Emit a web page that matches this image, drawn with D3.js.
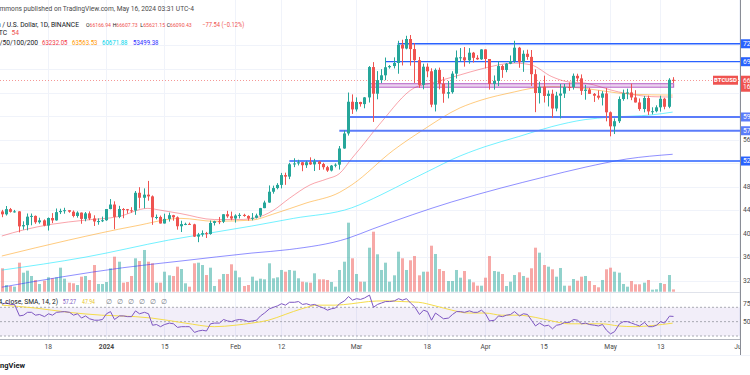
<!DOCTYPE html>
<html><head><meta charset="utf-8">
<script src="https://cdn.jsdelivr.net/npm/d3@7"></script>
<style>
body{margin:0;background:#fff;overflow:hidden;}
svg{display:block;font-family:Roboto,"Liberation Sans",Arial,sans-serif;}
</style></head>
<body><svg id="c" width="750" height="375"></svg>
<script>
// ---------------- DATA ----------------
const firstDay = "2023-12-07"; // one candle per day from here
const opens = [43775,43290,44170,43710,43790,41240,41450,42890,43020,41940,42260,41370,42660,42260,43660,43860,43990,43730,43010,43580,42510,43450,42580,42070,42140,
42280,44180,44950,42850,44190,44160,43970,43930,46950,46110,46630,46340,42780,42840,41730,42510,43140,42780,41260,41620,41660,41580,39500,39850,40080,39940,41820,42120,42030,43300,42950,
42580,43080,43190,43010,42580,42700,43090,44340,45290,47130,47750,48290,49960,49700,51800,51940,52140,51640,52140,51780,52270,51840,51300,50730,51570,51730,54480,57040,62430,
61130,62390,62030,63170,68330,63800,66100,66930,68300,68500,69020,72120,71480,73100,71390,69500,65300,68390,67610,61940,67840,65500,63800,64060,67210,69960,69990,69470,70770,69900,69650,
71330,69700,65470,65970,68500,67840,68900,69360,71620,69150,70590,70060,67120,63920,64970,63420,63790,61280,63470,63820,64940,64920,66840,66410,64280,64500,63770,63460,63120,63840,
60640,58250,59120,62890,63890,64010,63160,62310,61190,63070,60790,60820,61480,62940,61580,66166.94];
const highs = [44050,44700,44370,44040,43820,42100,43430,43420,43090,42710,42430,42760,43490,44280,44240,44400,44000,43950,43800,43600,43680,43790,43120,42600,42900,
44180,45880,45500,44730,44350,44200,44500,47250,47900,47700,48970,46500,43250,43080,43400,43580,43200,42930,42200,41870,41880,41680,40130,40550,40300,42230,42200,42840,43310,43880,43750,
43290,43490,43380,43120,43500,43400,44380,45610,48200,48170,48590,50330,50370,52040,52820,52570,52190,52380,52980,52720,52380,52050,51530,51680,51950,54900,57550,64000,63680,
63170,62430,63230,68500,69170,67640,67970,69950,68670,69980,72800,72980,73650,73780,72400,70050,68900,68950,68120,68100,68240,66650,65970,67620,71150,71560,71730,71550,70900,70350,71370,
71340,69700,66900,69290,68720,69000,70300,72800,71760,71170,71280,71230,67930,65840,66870,64360,64490,64120,65450,65450,65700,67230,67200,67080,65290,64800,63920,64370,64230,64750,
60780,59600,63330,64500,64650,65500,64400,62990,63420,63470,61490,61820,63450,63100,66440,66607.73];
const lows = [42800,43080,43580,43580,40220,40680,40560,41420,41670,41690,41250,40530,41790,42200,43330,43400,43560,42770,42720,41680,42100,42300,41300,41520,41970,
42180,44150,40750,42630,42630,43400,43570,43200,44300,44300,45600,41500,42440,41720,41720,42050,42200,40680,40280,41450,41500,39430,38550,39500,39260,39820,41390,41620,41800,42690,42280,
41880,42580,42880,42220,42260,42580,42790,44330,45250,46800,47540,47700,48300,49270,51310,51600,50620,51180,51700,50650,50830,50900,50500,50580,51280,50900,54440,56680,60360,
60770,61600,61320,62300,59000,62850,65600,66100,68060,68100,67200,68600,71340,68560,65630,64780,64550,66600,61500,60780,64530,62260,63000,63800,66380,69280,68400,68900,69100,69560,69560,
68100,64500,64500,65090,66500,67450,68820,69040,68210,67520,69570,65100,60660,62130,62300,61630,59700,60800,59600,63080,64280,64500,65850,63590,62780,63780,62400,62800,61800,59100,
56550,56940,58810,62600,62860,62700,62300,60890,60630,60190,60290,60630,60750,61150,61330,65621.15];
const closes = [43290,44170,43710,43790,41240,41450,42890,43020,41940,42260,41370,42660,42260,43660,43860,43990,43730,43010,43580,42510,43450,42580,42070,42140,42280,
44180,44950,42850,44190,44160,43970,43930,46950,46110,46630,46340,42780,42840,41730,42510,43140,42780,41260,41620,41660,41580,39500,39850,40080,39940,41820,42120,42030,43300,42950,42580,
43080,43190,43010,42580,42700,43090,44340,45290,47130,47750,48290,49960,49700,51800,51940,52140,51640,52140,51780,52270,51840,51300,50730,51570,51730,54480,57040,62430,61130,
62390,62030,63170,68330,63800,66100,66930,68300,68500,69020,72120,71480,73100,71390,69500,65300,68390,67610,61940,67840,65500,63800,64060,67210,69960,69990,69470,70770,69900,69650,71330,
69700,65470,65970,68500,67840,68900,69360,71620,69150,70590,70060,67120,63920,64970,63420,63790,61280,63470,63820,64940,64920,66840,66410,64280,64500,63770,63460,63120,63840,60640,
58250,59120,62890,63890,64010,63160,62310,61190,63070,60790,60820,61480,62940,61580,66168,66090.43];
const volumes = [550,157,134,118,682,447,494,369,275,181,259,338,315,338,564,306,212,197,157,353,369,275,627,181,181,
228,550,823,705,212,228,369,785,721,980,705,667,212,212,470,385,369,588,533,197,118,667,682,627,392,564,134,291,416,416,644,
494,338,134,157,353,259,306,291,667,315,338,510,470,510,494,315,235,221,212,432,291,291,275,228,118,510,705,1622,785,
416,235,235,1034,1410,879,510,682,235,385,940,785,510,738,839,385,470,470,1081,886,533,486,251,251,510,329,486,291,221,141,141,
329,839,486,470,416,134,235,392,456,369,329,550,1034,917,627,588,526,353,557,141,141,298,259,353,369,251,157,103,275,526,
564,470,447,181,118,251,174,174,212,275,47,56,204,181,392,54];
const rsiValues = [75,76,74,74,58,59,63,63,59,60,57,61,59,63,63.5,64,63,59,61,55,58,54,52,52,53,
61,64,53,58,58,57,57,65,61,63,61,45,46,43,46,48,47,42,43,43,43,35,37,38,37,47,48,48,53,51,50,
52,53,52,50,51,52,58,62,68,70,72,75,73,77,77,78,74,75,73,74,71,69,66,68,69,75,79,85,80,
82,81,83,87,70,74,76,78,78,79,82,80,82,76,71,60,66,64,52,62,58,54,55,60,64,64,63,65,63,63,66,
61,51,52,58,57,59,60,64,58,61,60,52,44,48,44,45,40,45,46,49,49,53,52,47,48,46,45,44,46,38,
33,36,47,50,50,48,46,44,49,43,43,45,50,48,57.7,57.27];
const rsiSmaPoints = [["2023-12-07",73],["2023-12-15",69],["2023-12-23",63],["2023-12-31",59],["2024-01-08",57],["2024-01-12",55],["2024-01-20",48],["2024-01-27",43],["2024-02-01",45],["2024-02-05",48],
["2024-02-09",52],["2024-02-13",60],["2024-02-17",68],["2024-02-21",73],["2024-02-25",73],["2024-02-29",75],["2024-03-04",78],["2024-03-08",79],["2024-03-12",78],["2024-03-16",77],
["2024-03-20",72],["2024-03-24",66],["2024-03-28",62],["2024-04-01",62],["2024-04-05",59],["2024-04-09",59],["2024-04-13",56],["2024-04-17",51],["2024-04-21",47],["2024-04-25",47],
["2024-04-29",47],["2024-05-03",44],["2024-05-07",43],["2024-05-11",44.5],["2024-05-16",47.94]];
const ma20 = [["2023-12-07",39600],["2023-12-12",40600],["2023-12-19",41600],["2023-12-27",42300],["2024-01-04",42900],["2024-01-11",44300],["2024-01-14",44000],["2024-01-19",43400],["2024-01-27",42400],["2024-02-02",42400],
["2024-02-06",42700],["2024-02-10",43900],["2024-02-14",46000],["2024-02-19",48300],["2024-02-23",49300],["2024-02-26",50200],["2024-02-29",52800],["2024-03-02",54500],["2024-03-07",58900],["2024-03-15",64800],
["2024-03-19",65600],["2024-03-26",67000],["2024-03-31",68000],["2024-04-08",69000],["2024-04-12",68700],["2024-04-17",66700],["2024-04-21",65800],["2024-04-25",65600],["2024-05-03",64100],["2024-05-11",63300],["2024-05-16",63232.05]];
const ma50 = [["2023-12-07",36200],["2023-12-23",38900],["2024-01-08",41300],["2024-01-19",42600],["2024-01-27",42100],["2024-02-05",42300],["2024-02-10",43300],["2024-02-18",45200],["2024-02-26",47000],["2024-02-29",48300],
["2024-03-10",54200],["2024-03-17",57600],["2024-03-26",61400],["2024-03-31",62700],["2024-04-08",64100],["2024-04-12",64700],["2024-04-17",65000],["2024-04-25",64700],["2024-05-03",63900],["2024-05-11",63600],["2024-05-16",63563.53]];
const ma100 = [["2023-12-07",33800],["2023-12-27",36000],["2024-01-16",38900],["2024-02-05",41300],["2024-02-15",42600],["2024-02-29",44400],["2024-03-07",46600],["2024-03-14",49100],["2024-03-20",51200],["2024-03-24",52600],
["2024-04-01",54800],["2024-04-09",56500],["2024-04-17",58200],["2024-04-25",59400],["2024-05-01",59800],["2024-05-11",60200],["2024-05-16",60671.88]];
const ma200 = [["2023-12-07",30900],["2023-12-21",32600],["2024-01-05",34200],["2024-01-19",35350],["2024-02-05",36700],["2024-02-14",37300],["2024-02-28",39200],["2024-03-05",40800],["2024-03-24",45400],["2024-04-05",47800],
["2024-04-15",49600],["2024-04-25",51300],["2024-05-05",52700],["2024-05-16",53499.38]];
const levelPrices = [72290,69240,59840,57500,52350];
const levelStarts = ["2024-03-11","2024-03-08","2024-02-28","2024-02-26","2024-02-14"];
const zone = {low:64900, high:65500, from:"2024-03-04", to:"2024-05-16"};
const priceTicks = [32000,36000,40000,44000,48000,52000,56000,60000,64000,68000,72000];
const timeTickDates = ["2023-12-18","2024-01-01","2024-01-15","2024-02-01","2024-02-12","2024-03-01","2024-03-18","2024-04-01","2024-04-15","2024-05-01","2024-05-13","2024-06-01"];
const timeTickLabels = ["18","2024","15","Feb","12","Mar","18","Apr","15","May","13","Jun"];
const ohlcLegend = [["O","66166.94"],["H","66607.73"],["L","65621.15"],["C","66090.43"]];
const maLegend = ["63232.05","63563.53","60671.88","53499.38"];

// ---------------- CHART ----------------
const svg = d3.select("#c");
const P = d3.utcParse("%Y-%m-%d");
const UP="#26a69a", DN="#ef5350";
const x = d3.scaleUtc().domain([P("2024-02-12"),P("2024-03-01")]).range([281,356]);
const y = d3.scaleLinear().domain([32000,68000]).range([280.7,69]);
const yVol = d3.scaleLinear().domain([0,2350]).range([291.7,191.7]);
const yR = d3.scaleLinear().domain([30,70]).range([336,307.3]);
const start = P(firstDay);
const days = closes.map((_,i)=>d3.utcDay.offset(start,i));
const cx = d => Math.round(x(d));
const last = closes[closes.length-1];

const defs = svg.append("defs");
defs.append("clipPath").attr("id","main").append("rect").attr("x",0).attr("y",0).attr("width",740).attr("height",292);
defs.append("clipPath").attr("id","rsi").append("rect").attr("x",0).attr("y",293).attr("width",740).attr("height",46);
defs.append("clipPath").attr("id","time").append("rect").attr("x",0).attr("y",340).attr("width",741).attr("height",15);

// grid
const grid = svg.append("g");
grid.selectAll("line.v").data(timeTickDates.map(P)).join("line")
  .attr("x1",d=>cx(d)+0.5).attr("x2",d=>cx(d)+0.5).attr("y1",0).attr("y2",339)
  .attr("stroke","#f0f3fa").attr("stroke-width",1);
grid.selectAll("line.h").data(priceTicks).join("line")
  .attr("x1",0).attr("x2",740).attr("y1",d=>Math.round(y(d))+0.5).attr("y2",d=>Math.round(y(d))+0.5)
  .attr("stroke","#f0f3fa").attr("stroke-width",1);

const main = svg.append("g").attr("clip-path","url(#main)");
// volume
main.append("g").selectAll("rect").data(days).join("rect")
  .attr("x",(d)=>cx(d)-1).attr("width",3)
  .attr("y",(d,i)=>yVol(volumes[i])).attr("height",(d,i)=>yVol(0)-yVol(volumes[i]))
  .attr("fill",(d,i)=>closes[i]>=opens[i]?"rgba(38,166,154,0.5)":"rgba(239,83,80,0.5)");

// moving averages
const maLine = d3.line().x(p=>x(P(p[0]))).y(p=>y(p[1])).curve(d3.curveMonotoneX);
[[ma200,"rgba(33,33,255,0.5)"],[ma100,"rgba(0,229,255,0.55)"],[ma50,"rgba(255,152,0,0.5)"],[ma20,"rgba(242,54,69,0.45)"]].forEach(([arr,col])=>{
  main.append("path").attr("d",maLine(arr)).attr("fill","none").attr("stroke",col).attr("stroke-width",1);
});

// zone rectangle
main.append("rect").attr("x",x(P(zone.from))).attr("width",x(P(zone.to))-x(P(zone.from))+1)
  .attr("y",y(zone.high)).attr("height",y(zone.low)-y(zone.high))
  .attr("fill","rgba(156,39,176,0.2)").attr("stroke","rgba(156,39,176,0.7)").attr("stroke-width",1);

// horizontal levels
const levelStyle = [["#2962ff",1.3],["#2962ff",1.3],["#5b7cfa",2],["#5b7cfa",2],["#2962ff",1.5]];
levelPrices.forEach((p,i)=>{
  main.append("line").attr("x1",x(P(levelStarts[i]))).attr("x2",740)
    .attr("y1",y(p)).attr("y2",y(p)).attr("stroke",levelStyle[i][0]).attr("stroke-width",levelStyle[i][1]);
});

// current price line
main.append("line").attr("x1",0).attr("x2",740).attr("y1",Math.round(y(last))+0.5).attr("y2",Math.round(y(last))+0.5)
  .attr("stroke","rgba(239,83,80,0.6)").attr("stroke-dasharray","1,2");

// candles
const cg = main.append("g");
cg.selectAll("line").data(days).join("line")
  .attr("x1",d=>cx(d)+0.5).attr("x2",d=>cx(d)+0.5)
  .attr("y1",(d,i)=>y(highs[i])).attr("y2",(d,i)=>y(lows[i]))
  .attr("stroke",(d,i)=>closes[i]>=opens[i]?UP:DN).attr("stroke-width",1);
cg.selectAll("rect").data(days).join("rect")
  .attr("x",d=>cx(d)-1).attr("width",3)
  .attr("y",(d,i)=>y(Math.max(opens[i],closes[i])))
  .attr("height",(d,i)=>Math.max(1,Math.abs(y(opens[i])-y(closes[i]))))
  .attr("fill",(d,i)=>closes[i]>=opens[i]?UP:DN);

// ---------------- header text ----------------
const FS = 6.7;
function txt(g,xx,yy,s,col,opt={}){
  const t=g.append("text").attr("x",xx).attr("y",yy).text(s).attr("fill",col).attr("font-size",opt.fs||FS);
  if(opt.anchor) t.attr("text-anchor",opt.anchor);
  if(opt.weight) t.attr("font-weight",opt.weight);
  if(opt.len) t.attr("textLength",opt.len).attr("lengthAdjust","spacingAndGlyphs");
  return t;
}
const hd = svg.append("g");
{
  const full="CryptoCommons published on TradingView.com, May 16, 2024 03:31 UTC-4", pre="CryptoCo";
  const m=(s,f)=>{const t=hd.append("text").attr("font-size",f).text(s);const w=t.node().getComputedTextLength();t.remove();return w;};
  const f0=7, vis=m(full,f0)-m(pre,f0), f=f0*195/vis;
  txt(hd,-m(pre,f)-0.5,10.5,full,"#4a4a4a",{fs:f});
}
txt(hd,79,26.5,"Bitcoin / U.S. Dollar, 1D, BINANCE","#131722",{anchor:"end"});
[86,112.7,140.3,166.7].forEach((xx,i)=>{
  const t=hd.append("text").attr("x",xx).attr("y",26.5).attr("font-size",5.9)
    .attr("textLength",25).attr("lengthAdjust","spacingAndGlyphs");
  t.append("tspan").attr("fill","#131722").text(ohlcLegend[i][0]);
  t.append("tspan").attr("fill",DN).text(ohlcLegend[i][1]);
});
txt(hd,202.3,26.5,"\u221277.54 (\u22120.12%)",DN,{len:42,fs:6.3});
txt(hd,7,35,"Vol \u00b7 BTC","#131722",{anchor:"end"});
txt(hd,11.5,35,"54",DN);
txt(hd,38,44.5,"EMA 20/50/100/200","#131722",{anchor:"end"});
const legCols=["#f23645","#ff9800","#00d5ec","#2b2bff"];
[42,72,102,133].forEach((xx,i)=>txt(hd,xx,44.5,maLegend[i],legCols[i],{len:25.5,fs:6.3}));

// ---------------- RSI pane ----------------
svg.append("line").attr("x1",0).attr("x2",740).attr("y1",292.5).attr("y2",292.5).attr("stroke","#e0e3eb");
const rg = svg.append("g").attr("clip-path","url(#rsi)");
rg.append("rect").attr("x",0).attr("width",740).attr("y",yR(70)).attr("height",yR(30)-yR(70)).attr("fill","rgba(126,87,194,0.1)");
[70,50,30].forEach(v=>rg.append("line").attr("x1",0).attr("x2",740).attr("y1",yR(v)).attr("y2",yR(v))
  .attr("stroke","#9598a1").attr("stroke-dasharray","2,2").attr("stroke-width",0.8));
rg.append("path").attr("d",d3.line().x(p=>x(P(p[0]))).y(p=>yR(p[1])).curve(d3.curveMonotoneX)(rsiSmaPoints))
  .attr("fill","none").attr("stroke","#f5dc4b").attr("stroke-width",1);
rg.append("path").attr("d",d3.line().x((d)=>cx(d)+0.5).y((d,i)=>yR(rsiValues[i]))(days))
  .attr("fill","none").attr("stroke","#7e57c2").attr("stroke-width",1);
const rl = svg.append("g");
txt(rl,58,303.5,"RSI (14, close, SMA, 14, 2)","#131722",{anchor:"end"});
txt(rl,62.7,303.5,"57.27","#7e57c2",{len:13.3});
txt(rl,82,303.5,"47.94","#e8c62a",{len:13});
[106,116.7,127.7,139,150,161].forEach(xx=>txt(rl,xx,303.5,"\u2205","#787b86"));

// ---------------- time axis ----------------
svg.append("line").attr("x1",0).attr("x2",740).attr("y1",339.5).attr("y2",339.5).attr("stroke","#b2b5be");
svg.append("line").attr("x1",0).attr("x2",750).attr("y1",355.5).attr("y2",355.5).attr("stroke","#f0f3fa");
const ax = d3.axisBottom(x).tickValues(timeTickDates.map(P)).tickFormat((d,i)=>timeTickLabels[i]).tickSize(0).tickPadding(0);
const axg = svg.append("g").attr("clip-path","url(#time)").append("g").attr("transform","translate(0,344)").call(ax);
axg.select(".domain").remove();
axg.selectAll("text").attr("font-size",FS).attr("fill","#4a4a4a").attr("font-family","Roboto,'Liberation Sans',Arial,sans-serif")
  .attr("font-weight",(d,i)=>timeTickLabels[i]==="2024"?"bold":null);

// ---------------- price axis ----------------
svg.append("rect").attr("x",741).attr("y",0).attr("width",9).attr("height",355).attr("fill","#fff");
svg.append("line").attr("x1",740.5).attr("x2",740.5).attr("y1",0).attr("y2",355).attr("stroke","#8a8d96");
const pa = svg.append("g");
const taken = levelPrices.map(p=>y(p)).concat([y(last), y(last)+7]);
priceTicks.filter(p=>taken.every(t=>Math.abs(t-y(p))>8.5))
  .forEach(p=>txt(pa,743,y(p)+2.3,d3.format(".2f")(p),"#4a4a4a"));
txt(pa,743,yR(75)+2.3,"75.00","#4a4a4a");
txt(pa,743,yR(50)+2.3,"50.00","#4a4a4a");
const lvlLabCol=["#2962ff","#2962ff","#5b7cfa","#5b7cfa","#2962ff"];
levelPrices.forEach((p,i)=>{
  pa.append("rect").attr("x",741).attr("y",y(p)-4.5).attr("width",12).attr("height",9).attr("fill",lvlLabCol[i]);
  txt(pa,743,y(p)+2.3,d3.format(".2f")(p),"#fff");
});
pa.append("rect").attr("x",741).attr("y",y(last)-4.5).attr("width",12).attr("height",16).attr("fill",DN);
txt(pa,743,y(last)+2.3,d3.format(".2f")(last),"#fff");
txt(pa,743,y(last)+9,"16:28:47","#fff");
pa.append("rect").attr("x",713).attr("y",y(last)-4.5).attr("width",25).attr("height",9).attr("fill",DN);
txt(pa,725.5,y(last)+2.2,"BTCUSD","#fff",{anchor:"middle",fs:6,weight:"bold"});

// footer
txt(svg,25,368,"TradingView","#131722",{anchor:"end",fs:7.5,weight:"bold"});
</script></body></html>
